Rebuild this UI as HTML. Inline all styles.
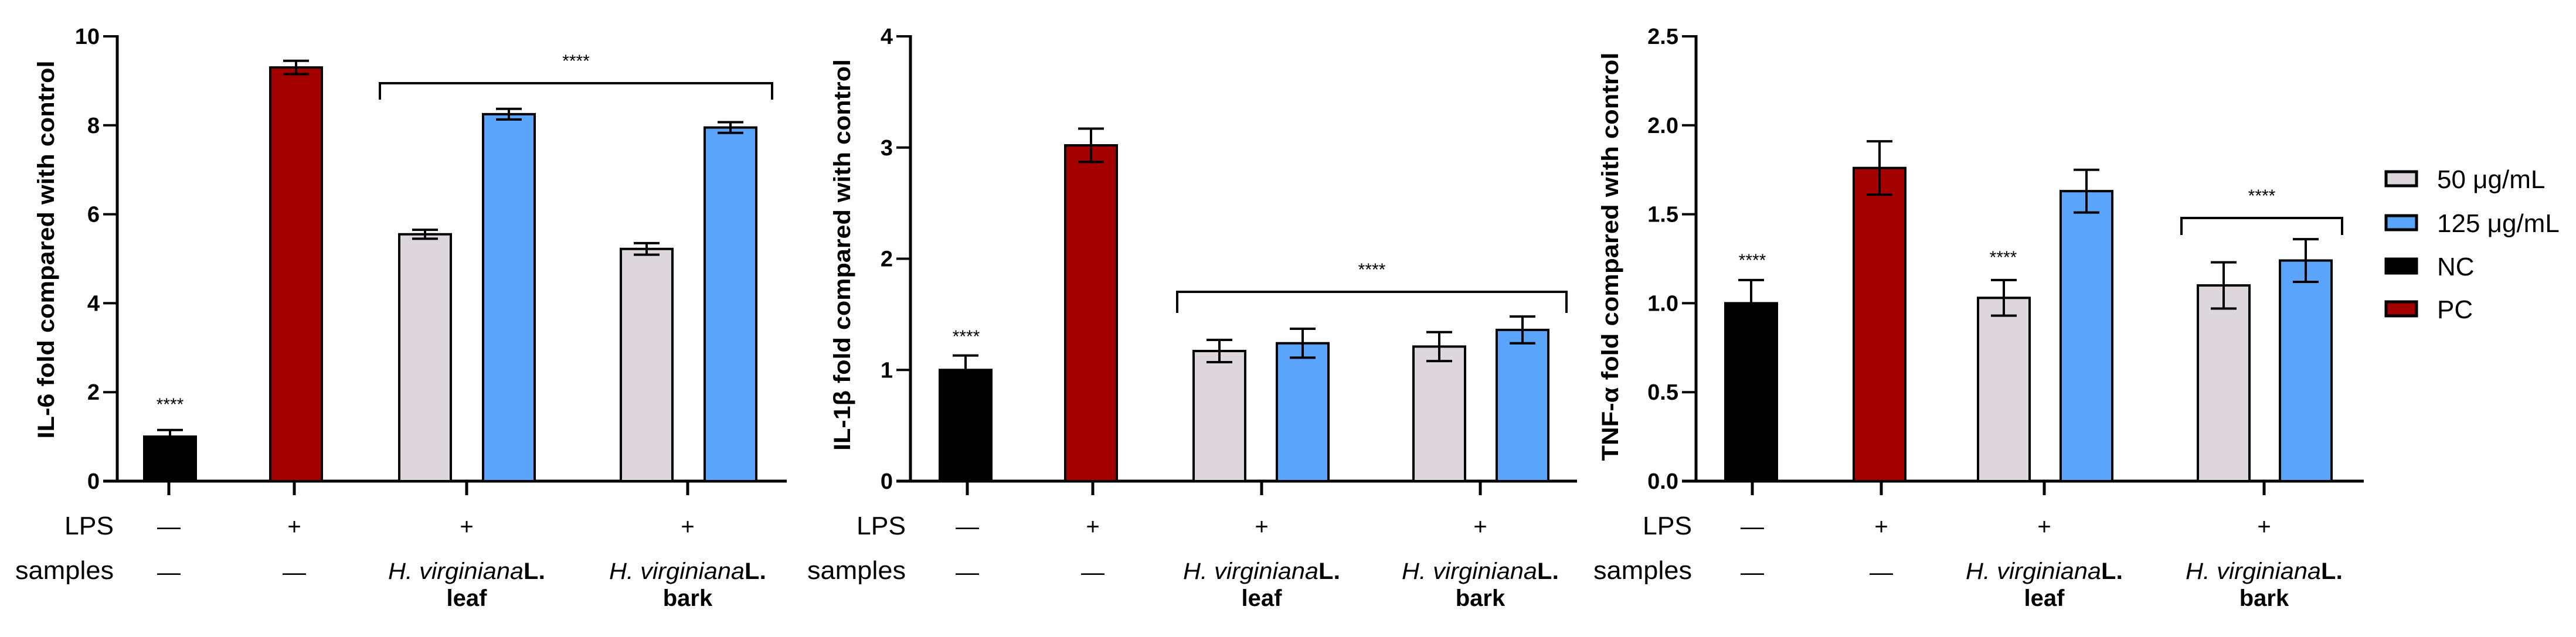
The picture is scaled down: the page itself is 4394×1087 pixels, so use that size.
<!DOCTYPE html>
<html><head><meta charset="utf-8"><style>
html,body{margin:0;padding:0;background:#fff;}
svg{display:block;font-family:"Liberation Sans",Arial,sans-serif;}
</style></head><body>
<svg id="fig" width="4394" height="1087" viewBox="0 0 4394 1087" xmlns="http://www.w3.org/2000/svg"></svg>
<script>
// ---- data ----
const groups = ["NC","PC","leaf-50","leaf-125","bark-50","bark-125"];
const il6Values = [1.0, 9.3, 5.55, 8.25, 5.22, 7.95];
const il6Errors = [0.15, 0.15, 0.1, 0.12, 0.13, 0.12];
const il6Ticks = ["0","2","4","6","8","10"];
const il1bValues = [1.0, 3.02, 1.17, 1.24, 1.21, 1.36];
const il1bErrors = [0.13, 0.15, 0.1, 0.13, 0.13, 0.12];
const il1bTicks = ["0","1","2","3","4"];
const tnfValues = [1.0, 1.76, 1.03, 1.63, 1.10, 1.24];
const tnfErrors = [0.13, 0.15, 0.1, 0.12, 0.13, 0.12];
const tnfTicks = ["0.0","0.5","1.0","1.5","2.0","2.5"];
const legendLabels = ["50 μg/mL","125 μg/mL","NC","PC"];
const lpsLabels = ["—","+","+","+"];

const NS="http://www.w3.org/2000/svg";
const svg=document.getElementById('fig');
function mk(tag,attrs,parent,text){const e=document.createElementNS(NS,tag);for(const k in attrs)e.setAttribute(k,attrs[k]);if(text!==undefined)e.textContent=text;(parent||svg).appendChild(e);return e;}
const fills=["#000000","#a50000","#ddd7dd","#5aa5fb","#ddd7dd","#5aa5fb"];

function panel(cfg,values,errors,ticks){
  const g=mk('g',{});
  
  
  const y0=821,y1=62,max=parseFloat(ticks[ticks.length-1]);
  const Y=v=>y0-(v/max)*(y0-y1);
  // y axis
  const ax=mk('line',{x1:cfg.axX,y1:y1-2,x2:cfg.axX,y2:y0+2,stroke:'#000','stroke-width':5},g);
  
  const bl=mk('line',{x1:cfg.axX-24,y1:y0,x2:cfg.axEnd,y2:y0,stroke:'#000','stroke-width':5},g);
  
  ticks.forEach(t=>{
    const yy=Y(parseFloat(t));
    mk('line',{x1:cfg.axX-24,y1:yy,x2:cfg.axX,y2:yy,stroke:'#000','stroke-width':4},g);
    const tl=mk('text',{x:cfg.axX-30,y:yy+13,'text-anchor':'end','font-size':38,'font-weight':'bold'},g,t);
    
  });
  const tt=mk('text',{x:0,y:0,transform:`translate(${cfg.titleX},${cfg.titleY}) rotate(-90)`,'text-anchor':'middle','font-size':40,'font-weight':'bold',textLength:cfg.titleLen,lengthAdjust:'spacingAndGlyphs'},g,cfg.title);
  
  // bars
  values.forEach((v,i)=>{
    const x=cfg.barX[i],w=88,top=Y(v);
    const r=mk('rect',{x:x,y:top,width:w,height:y0-top,fill:fills[i],stroke:'#000','stroke-width':4},g);
    
    const cx=x+w/2,eh=Y(v+errors[i]),el=Y(v-errors[i]);
    const eb=mk('path',{d:`M${cx},${el}V${eh}M${cx-22},${eh}H${cx+22}M${cx-22},${el}H${cx+22}`,stroke:'#000','stroke-width':4,fill:'none'},g);
    
  });
  // group ticks and labels
  cfg.groupX.forEach((gx,j)=>{
    mk('line',{x1:gx,y1:y0,x2:gx,y2:845,stroke:'#000','stroke-width':5},g);
    const l=mk('text',{x:gx,y:912,'text-anchor':'middle','font-size':40},g,lpsLabels[j]);
    
    if(j<2){
      const s=mk('text',{x:gx,y:990,'text-anchor':'middle','font-size':40},g,'—');
      
    } else {
      const s=mk('text',{x:gx,y:988,'text-anchor':'middle','font-size':40,textLength:268,lengthAdjust:'spacingAndGlyphs'},g);
      
      mk('tspan',{'font-style':'italic'},s,'H. virginiana');
      mk('tspan',{'font-weight':'bold'},s,'L.');
      const s2=mk('text',{x:gx,y:1034,'text-anchor':'middle','font-size':40,'font-weight':'bold'},g,j===2?'leaf':'bark');
      
    }
  });
  const lp=mk('text',{x:cfg.labX,y:912,'text-anchor':'end','font-size':44,textLength:84,lengthAdjust:'spacingAndGlyphs'},g,'LPS');
  
  const sp=mk('text',{x:cfg.labX,y:988,'text-anchor':'end','font-size':44,textLength:168,lengthAdjust:'spacingAndGlyphs'},g,'samples');
  
  // significance
  cfg.stars.forEach(s=>{
    const st=mk('text',{x:s[0],y:s[1],'text-anchor':'middle','font-size':30},g,'****');
    
  });
  const b=cfg.bracket;
  const br=mk('path',{d:`M${b[0]},${b[3]}V${b[2]}H${b[1]}V${b[3]}`,stroke:'#000','stroke-width':4,fill:'none'},g);
  
  mk('text',{x:(b[0]+b[1])/2,y:b[2]-28,'text-anchor':'middle','font-size':30},g,'****');
}

panel({name:'il6-panel',axX:200,axEnd:1342,title:'IL-6 fold compared with control',titleX:92,titleY:426,titleLen:645,
  barX:[246,461,681,824,1059,1202],groupX:[288,502,796,1173],labX:194,
  stars:[[290,700]],bracket:[648,1317,142,170]},il6Values,il6Errors,il6Ticks);
panel({name:'il1b-panel',axX:1553,axEnd:2690,title:'IL-1β fold compared with control',titleX:1450,titleY:435,titleLen:668,
  barX:[1603,1817,2036,2178,2411,2553],groupX:[1650,1864,2152,2525],labX:1545,
  stars:[[1648,584]],bracket:[2008,2672,498,534]},il1bValues,il1bErrors,il1bTicks);
panel({name:'tnf-panel',axX:2893,axEnd:4032,title:'TNF-α fold compared with control',titleX:2760,titleY:438,titleLen:697,
  barX:[2943,3162,3374,3515,3749,3889],groupX:[2989,3209,3487,3862],labX:2886,
  stars:[[2989,454],[3417,449]],bracket:[3721,3995,372,401]},tnfValues,tnfErrors,tnfTicks);

// legend
const legFills=["#ddd7dd","#5aa5fb","#000000","#a50000"];
const legY=[305,380,454,527];
legendLabels.forEach((t,i)=>{
  const sw=mk('rect',{x:4070,y:legY[i]-12,width:52,height:24,fill:legFills[i],stroke:'#000','stroke-width':5});
  
  const lt=mk('text',{x:4157,y:legY[i]+16,'font-size':44},svg,t);
  
});
</script>
</body></html>
